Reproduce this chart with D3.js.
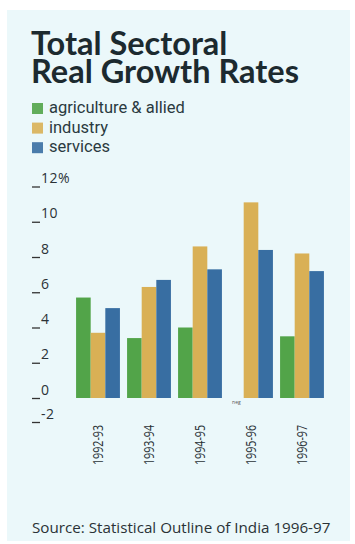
<!DOCTYPE html>
<html><head><meta charset="utf-8">
<script src="https://cdn.jsdelivr.net/npm/d3@7"></script>
<style>body{margin:0;background:#fff}svg{display:block}</style>
</head><body>
<script>
const categories = ["1992-93","1993-94","1994-95","1995-96","1996-97"];
const agriculture = [5.7, 3.4, 4.0, 0, 3.5];
const industry = [3.7, 6.3, 8.6, 11.1, 8.2];
const services = [5.1, 6.7, 7.3, 8.4, 7.2];
const seriesNames = ["agriculture & allied", "industry", "services"];
const tickValues = [-2, 0, 2, 4, 6, 8, 10, 12];
const tickLabels = ["-2", "0", "2", "4", "6", "8", "10", "12%"];
const titleLines = ["Total Sectoral", "Real Growth Rates"];
const sourceText = "Source: Statistical Outline of India 1996-97";
const negNote = "neg";

const colors = ["#52a449", "#d9b055", "#386ea2"];
const W = 355, H = 544;
const svg = d3.select("body").append("svg").attr("width", W).attr("height", H);
const bodyFont = "'Open Sans', sans-serif";

svg.append("rect").attr("x", 7).attr("y", 10).attr("width", 343).attr("height", 531).attr("fill", "#ebf8fa");

// title (one text element, two lines)
svg.append("text")
  .attr("font-family", "Lato, 'Open Sans', sans-serif").attr("font-weight", 700)
  .attr("font-size", 32.5).attr("fill", "#1c2a2f")
  .selectAll("tspan").data(titleLines).join("tspan")
  .attr("x", 31).attr("y", (d, i) => 55 + i * 28).text(d => d);

// legend
const leg = svg.append("g").selectAll("g").data(seriesNames).join("g")
  .attr("transform", (d, i) => `translate(32,${113 + i * 19.6})`);
leg.append("rect").attr("x", 0).attr("y", -10).attr("width", 11).attr("height", 11)
  .attr("fill", (d, i) => colors[i]).attr("opacity", 0.9);
leg.append("text").attr("x", 17).attr("y", 0)
  .attr("font-family", "Roboto, sans-serif").attr("font-size", 16.5).attr("fill", "#2a3a40").text(d => d);

// scales
const x = d3.scaleBand().domain(categories).range([72.5, 327.5]).paddingInner(0.14).paddingOuter(0.07);
const xs = d3.scaleBand().domain(seriesNames).range([0, x.bandwidth()]);
const y = d3.scaleLinear().domain([-2, 0, 12]).range([422, 398, 186.5]);

// y axis
const ax = svg.append("g").attr("transform", "translate(40,0)")
  .call(d3.axisLeft(y).tickValues(tickValues).tickSize(8).tickFormat((d, i) => tickLabels[i]));
ax.select(".domain").remove();
ax.selectAll(".tick line").attr("stroke", "#333").attr("stroke-width", 1.3);
ax.selectAll(".tick text").attr("x", 1).attr("dy", null).attr("y", -4)
  .attr("text-anchor", "start").attr("font-family", bodyFont)
  .attr("font-size", 14).attr("letter-spacing", 0.5).attr("fill", "#2a3236");

// bars
const data = categories.map((c, i) => ({ c, vals: [agriculture[i], industry[i], services[i]] }));
const grp = svg.append("g").selectAll("g").data(data).join("g")
  .attr("transform", d => `translate(${x(d.c)},0)`);
grp.selectAll("rect").data(d => d.vals.map((v, k) => ({ v, k }))).join("rect")
  .attr("x", d => xs(seriesNames[d.k])).attr("width", xs.bandwidth())
  .attr("y", d => y(Math.max(0, d.v))).attr("height", d => Math.abs(y(d.v) - y(0)))
  .attr("fill", d => colors[d.k]);

// tiny note under 1995-96 agriculture
svg.append("text").attr("x", x(categories[3]) + xs(seriesNames[0]) + xs.bandwidth() / 2)
  .attr("y", y(0) + 6).attr("text-anchor", "middle").attr("font-family", bodyFont)
  .attr("font-size", 5).attr("fill", "#555").text(negNote);

// x labels
const xa = svg.append("g").attr("transform", `translate(0,${y(0)})`)
  .call(d3.axisBottom(x).tickSize(0));
xa.select(".domain").remove();
xa.selectAll(".tick text")
  .attr("transform", "rotate(-90)").attr("x", -27).attr("y", 0).attr("dy", "0.36em")
  .attr("text-anchor", "end").attr("font-family", bodyFont).attr("font-size", 15)
  .attr("textLength", 40).attr("lengthAdjust", "spacingAndGlyphs").attr("fill", "#2a3236");

// source
svg.append("text").attr("x", 32).attr("y", 533).attr("font-family", bodyFont)
  .attr("font-size", 15.2).attr("fill", "#2a3236").text(sourceText);
</script>
</body></html>
